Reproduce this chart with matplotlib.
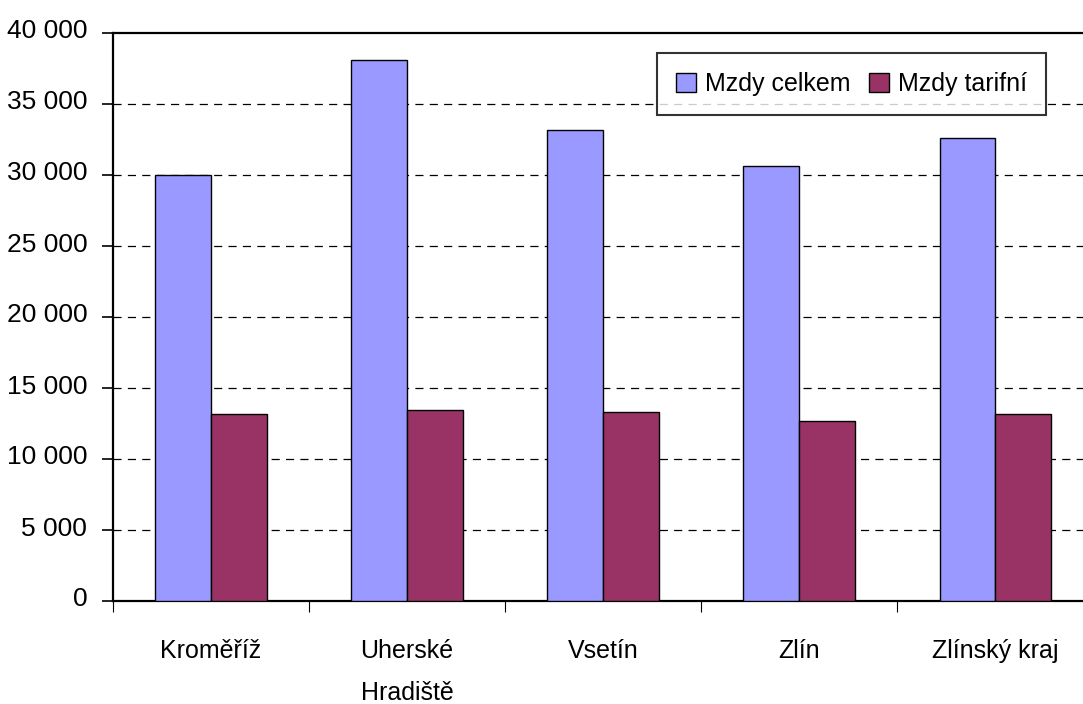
import matplotlib
matplotlib.use("Agg")
import matplotlib.pyplot as plt
import matplotlib.transforms as mtransforms
import numpy as np

categories = ["Kroměříž", "Uherské\nHradiště", "Vsetín", "Zlín", "Zlínský kraj"]
mzdy_celkem = [30000, 38100, 33150, 30600, 32600]
mzdy_tarifni = [13150, 13450, 13300, 12700, 13150]
series_names = ["Mzdy celkem", "Mzdy tarifní"]
yticks = list(range(0, 40001, 5000))

fontfam = ["Liberation Sans", "DejaVu Sans"]

fig = plt.figure(figsize=(10.83, 7.04), dpi=100)
ax = fig.add_axes([113/1083, 1-601/704, (1093.5-113)/1083, (601-33)/704])

x = np.arange(len(categories))
w = 0.285
ax.bar(x - w/2, mzdy_celkem, w, color="#9999FF", edgecolor="black", linewidth=1.0, label=series_names[0], zorder=3)
ax.bar(x + w/2, mzdy_tarifni, w, color="#993366", edgecolor="black", linewidth=1.0, label=series_names[1], zorder=3)

ax.set_xlim(-0.5, len(categories) - 0.5)
ax.set_ylim(0, 40000)

ax.set_yticks(yticks)
ax.set_yticklabels([f"{v:,}".replace(",", " ") for v in yticks], fontfamily=fontfam, fontsize=19)
ax.tick_params(axis="y", length=8, width=1.2, direction="out", pad=10.5)
shift = mtransforms.ScaledTranslation(0, 4/100, fig.dpi_scale_trans)
for lab in ax.get_yticklabels():
    lab.set_transform(lab.get_transform() + shift)

# category boundaries as major ticks, category labels as minor ticks
ax.set_xticks(np.arange(-0.5, len(categories), 1.0))
ax.set_xticklabels([])
ax.tick_params(axis="x", which="major", length=8, width=0.8, direction="out")
ax.set_xticks(x, minor=True)
first_lines = [c.split("\n")[0] for c in categories]
ax.set_xticklabels(first_lines, minor=True, fontfamily=fontfam, fontsize=18, va="baseline")
ax.tick_params(axis="x", which="minor", length=0, pad=41)
line2_tr = ax.get_xaxis_transform() + mtransforms.ScaledTranslation(0, -99/100, fig.dpi_scale_trans)
for xi, c in zip(x, categories):
    parts = c.split("\n")
    if len(parts) > 1:
        ax.text(xi, 0, parts[1], transform=line2_tr, ha="center", va="baseline",
                fontfamily=fontfam, fontsize=18, clip_on=False)

for gy in yticks[1:-1]:
    ax.axhline(gy, color="black", linewidth=0.9, dashes=(6.5, 5), zorder=1)

for s in ["left", "bottom", "top", "right"]:
    ax.spines[s].set_linewidth(1.6)
    ax.spines[s].set_color("black")

leg = ax.legend(loc="center", bbox_to_anchor=(0.5548, 0.8539, 0.3967, 0.1126), mode="expand",
                ncol=2, frameon=True, fancybox=False, edgecolor="black",
                prop={"family": fontfam, "size": 18}, handlelength=0.82, handleheight=0.78,
                handletextpad=0.35, columnspacing=1.0, borderaxespad=0, borderpad=0.75)
leg.get_frame().set_linewidth(1.5)
leg.set_zorder(5)

fig.savefig("out.png", dpi=100)
